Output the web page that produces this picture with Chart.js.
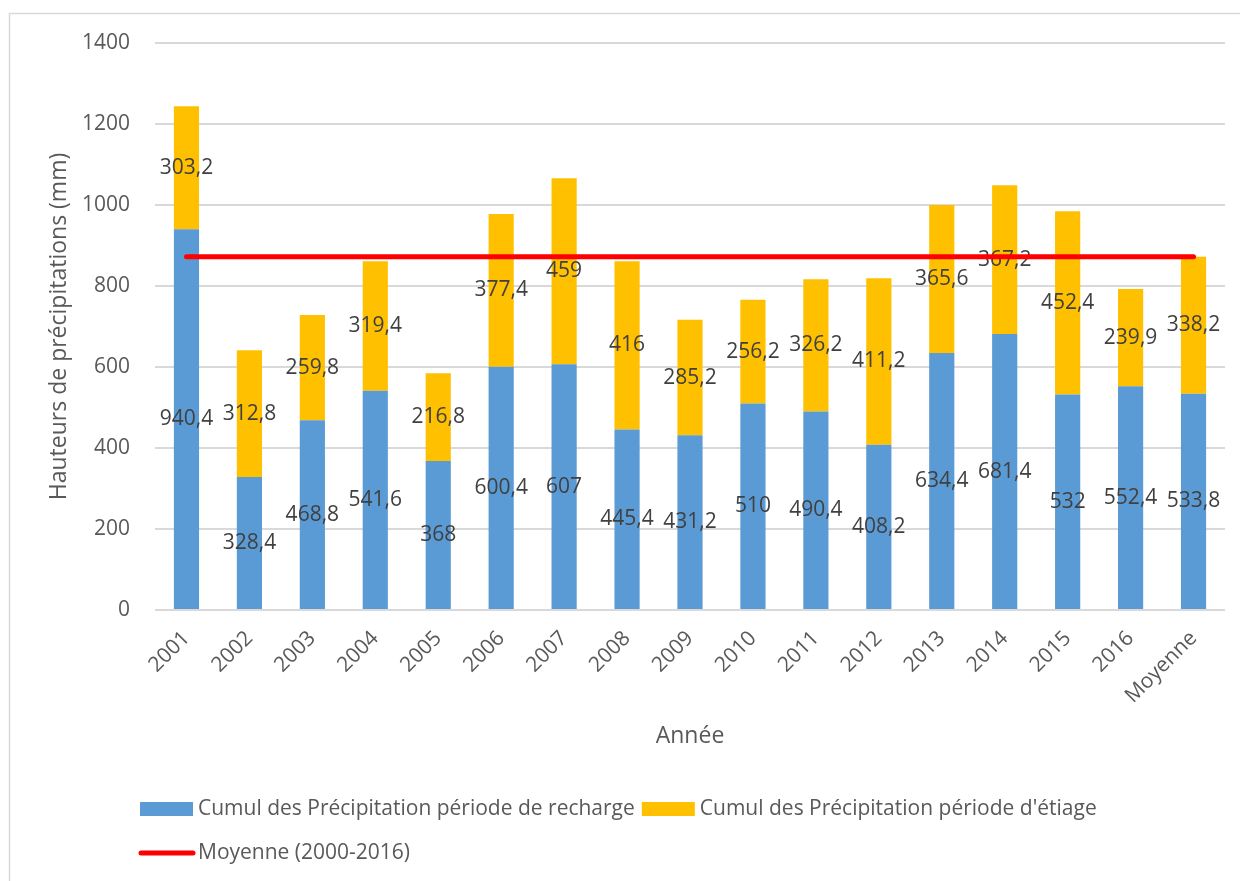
<!DOCTYPE html>
<html>
<head>
<meta charset="utf-8">
<script src="https://cdn.jsdelivr.net/npm/chart.js@4"></script>
<style>
  html, body { margin: 0; padding: 0; background: #ffffff; }
  #wrap { position: relative; width: 1240px; height: 881px; }
</style>
</head>
<body>
<div id="wrap"><canvas id="chart" width="1240" height="881"></canvas></div>
<script>
// Précipitations annuelles (mm) : cumul par période
const annees = ['2001', '2002', '2003', '2004', '2005', '2006', '2007', '2008', '2009',
  '2010', '2011', '2012', '2013', '2014', '2015', '2016', 'Moyenne'];
const cumulRecharge = [940.4, 328.4, 468.8, 541.6, 368, 600.4, 607, 445.4, 431.2,
  510, 490.4, 408.2, 634.4, 681.4, 532, 552.4, 533.8];
const cumulEtiage = [303.2, 312.8, 259.8, 319.4, 216.8, 377.4, 459, 416, 285.2,
  256.2, 326.2, 411.2, 365.6, 367.2, 452.4, 239.9, 338.2];
const moyenneInterannuelle = [872, 872, 872, 872, 872, 872, 872, 872, 872,
  872, 872, 872, 872, 872, 872, 872, 872];

const FONT = '"Open Sans", "DejaVu Sans", sans-serif';
const TEXT = '#595959';
const LABEL = '#404040';
const BLUE = '#5B9BD5';
const GOLD = '#FFC000';
const RED = '#FF0000';
const GRID = '#D9D9D9';

const fr = v => String(v).replace('.', ',');

// Valeurs écrites au milieu de chaque segment empilé
const segmentLabels = {
  id: 'segmentLabels',
  afterDatasetDraw(chart, args) {
    const ds = chart.data.datasets[args.index];
    if (ds.type === 'line') return;
    const ctx = chart.ctx;
    ctx.save();
    ctx.font = '21px ' + FONT;
    ctx.fillStyle = LABEL;
    ctx.textAlign = 'center';
    ctx.textBaseline = 'middle';
    args.meta.data.forEach((bar, i) => {
      ctx.fillText(fr(ds.data[i]), bar.x, (bar.y + bar.base) / 2);
    });
    ctx.restore();
  }
};

// Cadre gris autour du graphique
const frame = {
  id: 'frame',
  beforeDraw(chart) {
    const ctx = chart.ctx;
    ctx.save();
    ctx.fillStyle = '#ffffff';
    ctx.fillRect(0, 0, chart.width, chart.height);
    ctx.strokeStyle = GRID;
    ctx.lineWidth = 1.5;
    ctx.strokeRect(9.5, 13.5, chart.width + 20, chart.height + 20);
    ctx.restore();
  }
};

// Légende sur deux lignes, alignée à gauche
const legendRows = {
  id: 'legendRows',
  afterDraw(chart) {
    const ctx = chart.ctx;
    const ds = chart.data.datasets;
    ctx.save();
    ctx.font = '21px ' + FONT;
    ctx.fillStyle = TEXT;
    ctx.textBaseline = 'middle';
    ctx.textAlign = 'left';
    const x0 = 140, row1 = 809, row2 = 853;
    let x = x0;
    [ds[0], ds[1]].forEach(d => {
      ctx.fillStyle = d.backgroundColor;
      ctx.fillRect(x, row1 - 7, 53, 14);
      ctx.fillStyle = TEXT;
      ctx.fillText(d.label, x + 58, row1);
      x += 58 + ctx.measureText(d.label).width + 7;
    });
    const l = ds[2];
    ctx.strokeStyle = l.borderColor;
    ctx.lineWidth = 5;
    ctx.lineCap = 'round';
    ctx.beginPath();
    ctx.moveTo(x0 + 1, row2);
    ctx.lineTo(x0 + 53, row2);
    ctx.stroke();
    ctx.fillStyle = TEXT;
    ctx.fillText(l.label, x0 + 58, row2);
    ctx.restore();
  }
};

new Chart(document.getElementById('chart'), {
  data: {
    labels: annees,
    datasets: [
      {
        type: 'bar',
        label: 'Cumul des Précipitation période de recharge',
        data: cumulRecharge,
        backgroundColor: BLUE,
        barPercentage: 0.4,
        categoryPercentage: 1,
        order: 1
      },
      {
        type: 'bar',
        label: "Cumul des Précipitation période d'étiage",
        data: cumulEtiage,
        backgroundColor: GOLD,
        barPercentage: 0.4,
        categoryPercentage: 1,
        order: 1
      },
      {
        type: 'line',
        label: 'Moyenne (2000-2016)',
        data: moyenneInterannuelle,
        borderColor: RED,
        backgroundColor: RED,
        borderWidth: 5,
        borderCapStyle: 'round',
        pointRadius: 0,
        fill: false,
        order: 0
      }
    ]
  },
  options: {
    responsive: false,
    animation: false,
    devicePixelRatio: 1,
    layout: { padding: { left: 46, top: 43, right: 15, bottom: 131 } },
    plugins: {
      legend: { display: false },
      tooltip: { enabled: false }
    },
    scales: {
      x: {
        stacked: true,
        grid: { display: false, drawTicks: false },
        border: { display: false },
        ticks: {
          color: TEXT,
          font: { family: FONT, size: 21 },
          minRotation: 45,
          maxRotation: 45,
          padding: 16
        },
        title: {
          display: true,
          text: 'Année',
          color: TEXT,
          font: { family: FONT, size: 23 },
          padding: 0
        },
        afterFit(s) { s.height = 140; }
      },
      y: {
        stacked: true,
        min: 0,
        max: 1400,
        grid: { color: GRID, lineWidth: 2, drawTicks: false },
        border: { display: false },
        ticks: {
          stepSize: 200,
          color: TEXT,
          font: { family: FONT, size: 21 },
          padding: 25,
          callback: v => String(v)
        },
        title: {
          display: true,
          text: 'Hauteurs de précipitations (mm)',
          color: TEXT,
          font: { family: FONT, size: 23 },
          padding: 0
        },
        afterFit(s) { s.width = 109; }
      }
    }
  },
  plugins: [frame, segmentLabels, legendRows]
});
</script>
</body>
</html>
